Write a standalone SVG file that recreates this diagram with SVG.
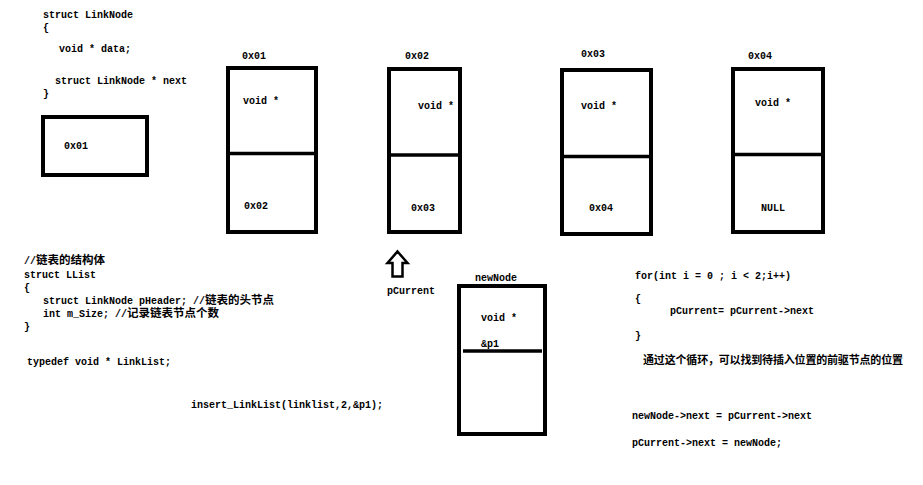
<svg xmlns="http://www.w3.org/2000/svg" width="923" height="485" viewBox="0 0 923 485">
<style>
.t{font-family:"Liberation Mono","Noto Sans CJK SC",monospace;font-size:10px;font-weight:bold;fill:#000}
.cj{font-family:"Noto Sans CJK SC",sans-serif;font-size:11.5px;font-weight:bold;fill:#000}
.box{fill:#fff;stroke:#000;stroke-width:4}
.div{stroke:#000;stroke-width:3.5;fill:none}
</style>
<rect width="923" height="485" fill="#fff"/>
<g id="code-linknode">
<text class="t" x="43" y="18">struct LinkNode</text>
<text class="t" x="43" y="31">{</text>
<text class="t" x="59" y="52">void * data;</text>
<text class="t" x="55" y="84">struct LinkNode * next</text>
<text class="t" x="43" y="97">}</text>
</g>
<g id="header-box">
<rect class="box" x="43" y="117" width="104" height="58"/>
<text class="t" x="64" y="149">0x01</text>
</g>
<g id="node-0x01">
<text class="t" x="242" y="59">0x01</text>
<rect class="box" x="228" y="68" width="88" height="164"/>
<line class="div" x1="228" y1="153.5" x2="316" y2="153.5"/>
<text class="t" x="243" y="104">void *</text>
<text class="t" x="244" y="209">0x02</text>
</g>
<g id="node-0x02">
<text class="t" x="405" y="59">0x02</text>
<rect class="box" x="389" y="69" width="71" height="163"/>
<line class="div" x1="389" y1="155" x2="460" y2="155"/>
<text class="t" x="418" y="109">void *</text>
<text class="t" x="411" y="211">0x03</text>
</g>
<g id="node-0x03">
<text class="t" x="581" y="57">0x03</text>
<rect class="box" x="562" y="70" width="89" height="164"/>
<line class="div" x1="562" y1="156.5" x2="651" y2="156.5"/>
<text class="t" x="581" y="109">void *</text>
<text class="t" x="589" y="211">0x04</text>
</g>
<g id="node-0x04">
<text class="t" x="748" y="59">0x04</text>
<rect class="box" x="733" y="69" width="90" height="163"/>
<line class="div" x1="733" y1="154.5" x2="823" y2="154.5"/>
<text class="t" x="755" y="106">void *</text>
<text class="t" x="761" y="211">NULL</text>
</g>
<g id="code-llist">
<text class="t" x="24" y="264">//</text>
<text class="cj" x="36" y="264">链表的结构体</text>
<text class="t" x="24" y="278">struct LList</text>
<text class="t" x="24" y="291">{</text>
<text class="t" x="43" y="304">struct LinkNode pHeader; //</text>
<text class="cj" x="205" y="304">链表的头节点</text>
<text class="t" x="43" y="317">int m_Size; //</text>
<text class="cj" x="127" y="317">记录链表节点个数</text>
<text class="t" x="24" y="330">}</text>
<text class="t" x="27" y="365">typedef void * LinkList;</text>
<text class="t" x="191" y="408">insert_LinkList(linklist,2,&amp;p1);</text>
</g>
<g id="pcurrent">
<path d="M397.5,251.5 L407.5,263 L402.5,263 L402.5,276.5 L392.5,276.5 L392.5,263 L387.5,263 Z" fill="#fff" stroke="#000" stroke-width="2.5" stroke-linejoin="miter"/>
<text class="t" x="387" y="294">pCurrent</text>
</g>
<g id="newNode">
<text class="t" x="475" y="281">newNode</text>
<rect class="box" x="459" y="286" width="86" height="148"/>
<line class="div" x1="463" y1="351" x2="542" y2="351"/>
<text class="t" x="481" y="321">void *</text>
<text class="t" x="481" y="347">&amp;p1</text>
</g>
<g id="code-loop">
<text class="t" x="635" y="279">for(int i = 0 ; i &lt; 2;i++)</text>
<text class="t" x="635" y="302">{</text>
<text class="t" x="670" y="314">pCurrent= pCurrent-&gt;next</text>
<text class="t" x="635" y="339">}</text>
<text class="cj" x="643" y="364" style="font-size:11px" textLength="260" lengthAdjust="spacing">通过这个循环，可以找到待插入位置的前驱节点的位置</text>
<text class="t" x="632" y="419">newNode-&gt;next = pCurrent-&gt;next</text>
<text class="t" x="632" y="446">pCurrent-&gt;next = newNode;</text>
</g>
<g id="connectors"></g>
</svg>
